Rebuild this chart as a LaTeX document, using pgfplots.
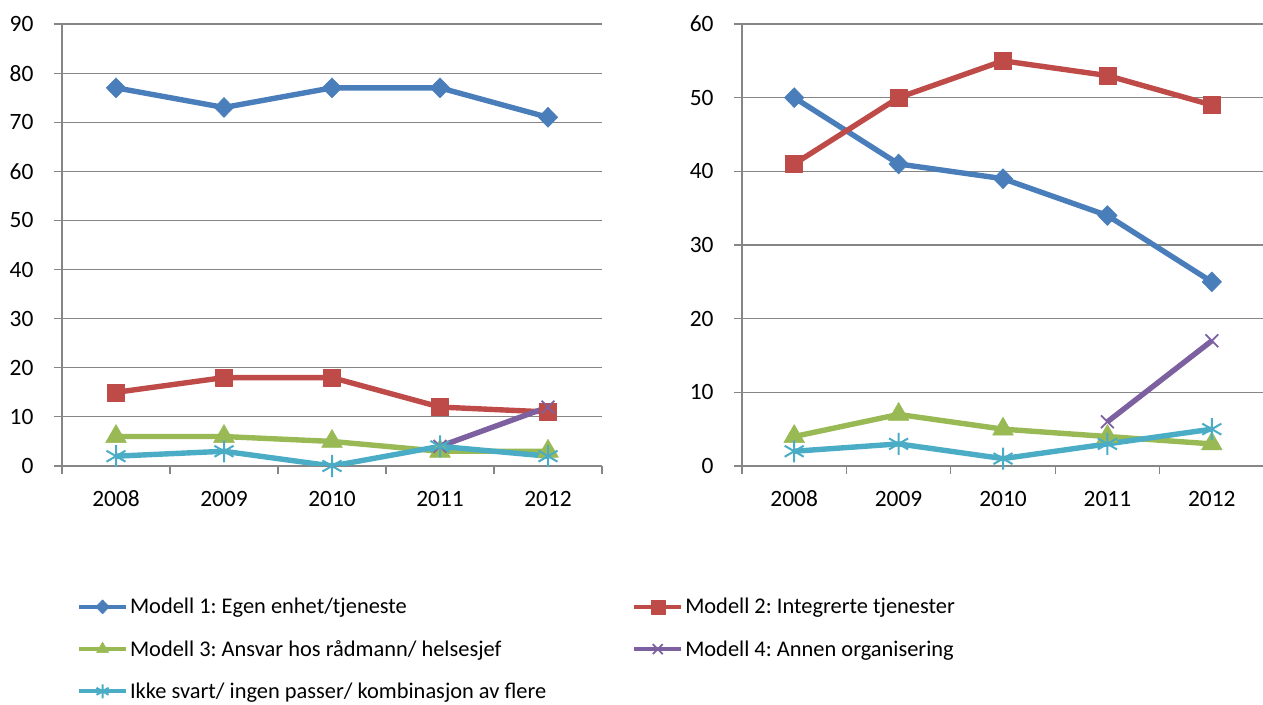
\documentclass[border=0pt]{standalone}
\usepackage{fontspec}
\setmainfont{Carlito}
\usepackage{pgfplots}
\pgfplotsset{compat=1.18}
\frenchspacing

\definecolor{mblue}{RGB}{74,126,187}
\definecolor{mred}{RGB}{190,75,72}
\definecolor{mgreen}{RGB}{152,185,84}
\definecolor{mpurple}{RGB}{125,96,160}
\definecolor{mcyan}{RGB}{75,172,198}
\definecolor{axgray}{RGB}{134,134,134}

\pgfplotsset{
  panel/.style={
    scale only axis, height=442bp,
    xmin=-0.5, xmax=4.5, ymin=0,
    axis x line*=bottom, axis y line*=left,
    axis line style={draw=axgray, line width=1.2bp, -},
    xtick={0,1,2,3,4}, xticklabels={2008,2009,2010,2011,2012},
    minor xtick={-0.5,0.5,1.5,2.5,3.5,4.5},
    major x tick style={draw=none},
    minor tick style={draw=axgray, line width=1.2bp},
    major tick style={draw=axgray, line width=1.2bp},
    tick align=outside, major tick length=8bp, minor tick length=8bp,
    ymajorgrids, grid style={draw=axgray, line width=1.2bp},
    tick label style={font=\fontsize{23.5}{27}\selectfont, text=black},
    /pgf/number format/assume math mode=true,
    xticklabel style={yshift=-14bp, text height=15bp, text depth=0pt},
    yticklabel style={xshift=-17bp},
    every axis plot/.append style={line width=5.4bp, line join=round},
  },
  s1/.style={mblue, mark=diamond*, mark size=10bp, mark options={xscale=1.3, line width=0.5bp}},
  s2/.style={mred, mark=square*, mark size=8.5bp, mark options={line width=0.5bp}},
  s3/.style={mgreen, mark=triangle*, mark size=12bp, mark options={line width=0.5bp}},
  s4/.style={mpurple, mark=x, mark size=9bp, mark options={line width=1.8bp}},
  s5/.style={mcyan, mark=asterisk, mark size=11bp, mark options={line width=2bp}},
}

\begin{document}
\begin{tikzpicture}
\useasboundingbox (0,0) rectangle (1263bp,705bp);

\begin{axis}[panel, width=540bp, ymax=90, ytick distance=10,
  at={(62bp,239bp)}, anchor=south west,
  legend columns=2,
  legend style={at={(0.022,-0.29)}, anchor=north west, draw=none, fill=none,
    font=\fontsize{22.5}{27}\selectfont, row sep=21bp,
    cells={anchor=west},
    /tikz/every even column/.append style={column sep=84bp}},
  legend image code/.code={\draw[mark repeat=2, mark phase=2, line width=4bp, mark size=7bp]
    plot coordinates {(0bp,0bp) (23.5bp,0bp) (47bp,0bp)};},
]
\addplot[s1] coordinates {(0,77) (1,73) (2,77) (3,77) (4,71)};
\addlegendentry{Modell 1: Egen enhet/tjeneste}
\addplot[s2] coordinates {(0,15) (1,18) (2,18) (3,12) (4,11)};
\addlegendentry{Modell 2: Integrerte tjenester}
\addplot[s3] coordinates {(0,6) (1,6) (2,5) (3,3) (4,3)};
\addlegendentry{Modell 3: Ansvar hos rådmann/ helsesjef}
\addplot[s4] coordinates {(3,4) (4,12)};
\addlegendentry{Modell 4: Annen organisering}
\addplot[s5] coordinates {(0,2) (1,3) (2,0) (3,4) (4,2)};
\addlegendentry{Ikke svart/ ingen passer/ kombinasjon av flere}
\end{axis}

\begin{axis}[panel, width=522bp, ymax=60, ytick distance=10,
  at={(742bp,239bp)}, anchor=south west]
\addplot[s1] coordinates {(0,50) (1,41) (2,39) (3,34) (4,25)};
\addplot[s2] coordinates {(0,41) (1,50) (2,55) (3,53) (4,49)};
\addplot[s3] coordinates {(0,4) (1,7) (2,5) (3,4) (4,3)};
\addplot[s4] coordinates {(3,6) (4,17)};
\addplot[s5] coordinates {(0,2) (1,3) (2,1) (3,3) (4,5)};
\end{axis}
\end{tikzpicture}
\end{document}
